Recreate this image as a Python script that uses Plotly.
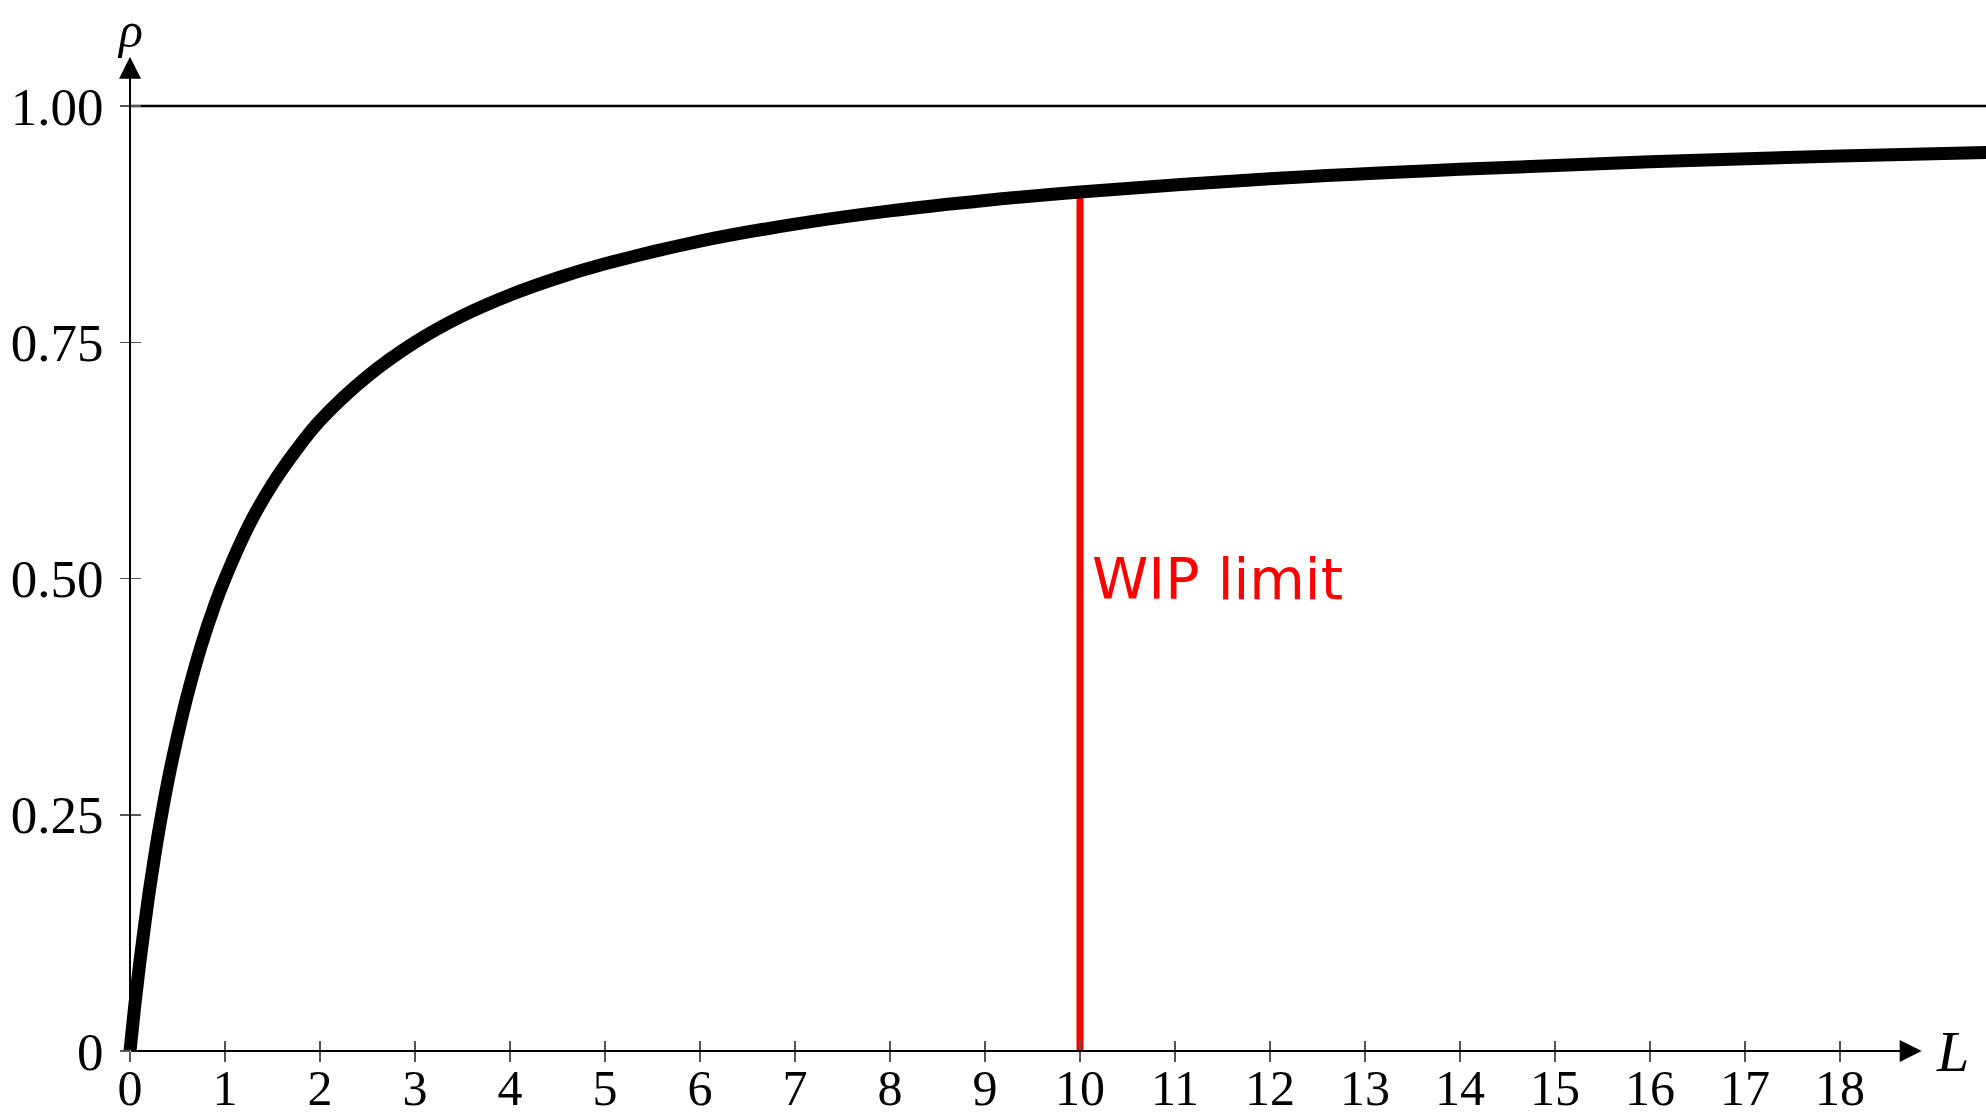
import plotly.graph_objects as go

# ---- data ----
L_vals = [0, 0.05, 0.1, 0.15, 0.2, 0.25, 0.3, 0.4, 0.5, 0.6, 0.75, 0.9, 1, 1.25, 1.5, 1.75,
          2, 2.5, 3, 3.5, 4, 4.5, 5, 6, 7, 8, 9, 10, 12, 14, 16, 18, 19.6]
rho_vals = [0, 0.048, 0.091, 0.13, 0.167, 0.2, 0.231, 0.286, 0.333, 0.375, 0.429, 0.474,
            0.5, 0.556, 0.6, 0.636, 0.667, 0.714, 0.75, 0.778, 0.8, 0.818, 0.833, 0.857,
            0.875, 0.889, 0.9, 0.909, 0.923, 0.933, 0.941, 0.947, 0.951]
wip_limit = 10
wip_rho = 0.909
upper_bound = 1.0
x_ticks = list(range(0, 19))
y_ticks = [0, 0.25, 0.5, 0.75, 1.0]
y_ticktext = ["0", "0.25", "0.50", "0.75", "1.00"]

W, H = 1986, 1118
x0_px, y0_px = 130, 1051
px_per_x = 95.0
px_per_y = 945.0
x_range = [-x0_px / px_per_x, (W - x0_px) / px_per_x]
y_range = [-(H - y0_px) / px_per_y, y0_px / px_per_y]
xpos = (0 - y_range[0]) / (y_range[1] - y_range[0])
ypos = (0 - x_range[0]) / (x_range[1] - x_range[0])

serif = "Liberation Serif"
tick_font = dict(family=serif, size=53, color="black")
xtick_font = dict(family=serif, size=50, color="black")

fig = go.Figure()

# upper bound line
fig.add_trace(go.Scatter(x=[0, x_range[1] + 1], y=[upper_bound, upper_bound], mode="lines",
                         line=dict(color="black", width=2.5), hoverinfo="skip"))
# WIP limit line
fig.add_trace(go.Scatter(x=[wip_limit, wip_limit], y=[0, wip_rho], mode="lines",
                         line=dict(color="#ff0000", width=7), hoverinfo="skip"))
# main curve
fig.add_trace(go.Scatter(x=L_vals, y=rho_vals, mode="lines",
                         line=dict(color="black", width=13, shape="spline", smoothing=1.0),
                         hoverinfo="skip"))
# invisible traces for the overlay axes (tick marks crossing the axes)
fig.add_trace(go.Scatter(x=[None], y=[None], xaxis="x2", yaxis="y2", mode="lines",
                         hoverinfo="skip"))
fig.add_trace(go.Scatter(x=[None], y=[None], xaxis="x3", yaxis="y2", mode="lines",
                         hoverinfo="skip"))

axis_common = dict(showgrid=False, zeroline=False, showline=False, automargin=False,
                   anchor="free", tickcolor="#555", tickwidth=1.5, ticklen=10,
                   fixedrange=True)

fig.update_layout(
    width=W, height=H,
    margin=dict(l=0, r=0, t=0, b=0),
    paper_bgcolor="white", plot_bgcolor="white",
    showlegend=False,
    xaxis=dict(range=x_range, tickvals=x_ticks, ticktext=[str(v) for v in x_ticks],
               ticks="", tickfont=xtick_font, position=xpos,
               ticklabelstandoff=3,
               **{k: v for k, v in axis_common.items() if k != "ticklen"}),
    yaxis=dict(range=y_range, tickvals=y_ticks, ticktext=y_ticktext,
               ticks="outside", tickfont=tick_font, position=ypos,
               ticklabelstandoff=6, **axis_common),
    xaxis2=dict(range=x_range, tickvals=x_ticks, ticks="inside", showticklabels=False,
                overlaying="x", position=xpos, **axis_common),
    xaxis3=dict(range=x_range, tickvals=x_ticks, ticks="outside", showticklabels=False,
                overlaying="x", position=xpos, **axis_common),
    yaxis2=dict(range=y_range, tickvals=y_ticks, ticks="inside", showticklabels=False,
                overlaying="y", position=ypos, **axis_common),
)

# axes with arrows
x_arrow_end = 18.86
y_arrow_end = 1.052
for (xe, ye) in [(x_arrow_end, 0), (0, y_arrow_end)]:
    fig.add_annotation(x=xe, y=ye, ax=0, ay=0, xref="x", yref="y", axref="x", ayref="y",
                       text="", showarrow=True, arrowhead=2, arrowsize=2.2, arrowwidth=2,
                       arrowcolor="black")

# axis titles
fig.add_annotation(x=(1952 - x0_px) / px_per_x, y=0, xref="x", yref="y", text="<i>L</i>",
                   showarrow=False, font=dict(family=serif, size=58, color="black"),
                   xanchor="center", yanchor="middle")
fig.add_annotation(x=0, y=(y0_px - 1) / px_per_y, xref="x", yref="y", text="<i>ρ</i>",
                   showarrow=False, font=dict(family=serif, size=50, color="black"),
                   xanchor="center", yanchor="top", borderpad=0)

# WIP limit label
fig.add_annotation(x=wip_limit + 0.1, y=0.5, xref="x", yref="y", text="WIP limit",
                   showarrow=False, font=dict(family="DejaVu Sans", size=57, color="#ff0000"),
                   xanchor="left", yanchor="middle")

fig.write_html("out.html", config={"displayModeBar": False, "staticPlot": True},
               post_script="document.body.style.margin='0';document.body.style.overflow='hidden';")
